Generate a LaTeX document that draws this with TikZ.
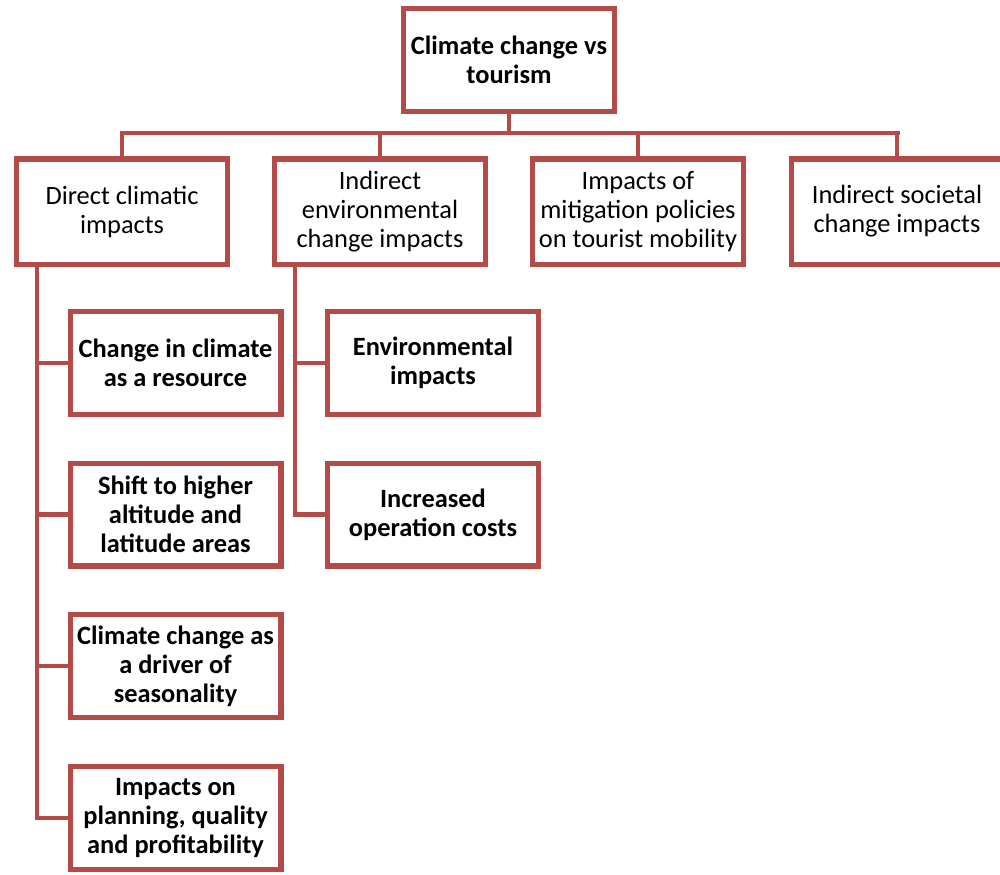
\documentclass[tikz,border=0pt]{standalone}
\usepackage{fontspec}
\setmainfont{Carlito}
\definecolor{boxred}{RGB}{180,75,72}
\begin{document}
\begin{tikzpicture}[x=0.75pt,y=-0.75pt,
  box/.style={draw=boxred,line width=4pt,fill=white,minimum width=158pt,minimum height=77pt,
    align=center,inner sep=1pt,font=\fontsize{19.8}{21.8}\selectfont},
  topbox/.style={box,minimum height=79pt},
  hbox/.style={box,font=\fontsize{19.8}{21.8}\selectfont\bfseries},
  link/.style={draw=boxred,line width=3.6pt}]
\useasboundingbox (0,0) rectangle (1000,875);
\clip (0,0) rectangle (1000,875);
% hierarchy lines
\coordinate (bus) at (509,133);
\coordinate (busL) at (122,133);
\coordinate (busR) at (898,133);
% top
\node[hbox] (top) at (509,60) {Climate change vs\\tourism};
% first level
\node[topbox] (d) at (122,211.5) {Direct climatic\\impacts};
\node[topbox] (e) at (380,211.5) {Indirect\\environmental\\change impacts};
\node[topbox] (m) at (638,211.5) {Impacts of\\mitigation policies\\on tourist mobility};
\node[topbox] (s) at (897,211.5) {Indirect societal\\change impacts};
% children of direct climatic impacts
\node[hbox] (d1) at (175.5,363) {Change in climate\\as a resource};
\node[hbox] (d2) at (175.5,514.5) {Shift to higher\\altitude and\\latitude areas};
\node[hbox] (d3) at (175.5,666) {Climate change as\\a driver of\\seasonality};
\node[hbox] (d4) at (175.5,818) {Impacts on\\planning, quality\\and profitability};
% children of indirect environmental change impacts
\node[hbox] (e1) at (433,363) {Environmental\\impacts};
\node[hbox] (e2) at (433,514.5) {Increased\\operation costs};
% connectors
\draw[link] (top.south) -- (bus);
\draw[link,line cap=rect] (busL) -- (busR);
\draw[link] (bus -| d.north) -- (d.north);
\draw[link] (bus -| e.north) -- (e.north);
\draw[link] (bus -| m.north) -- (m.north);
\draw[link] (bus -| s.north) -- (s.north);
\coordinate (dl) at (37,0);
\coordinate (el) at (295,0);
\draw[link] (dl |- d.south) -- (dl |- d4.west) -- (d4.west);
\draw[link] (dl |- d1.west) -- (d1.west);
\draw[link] (dl |- d2.west) -- (d2.west);
\draw[link] (dl |- d3.west) -- (d3.west);
\draw[link] (el |- e.south) -- (el |- e2.west) -- (e2.west);
\draw[link] (el |- e1.west) -- (e1.west);
\end{tikzpicture}
\end{document}
